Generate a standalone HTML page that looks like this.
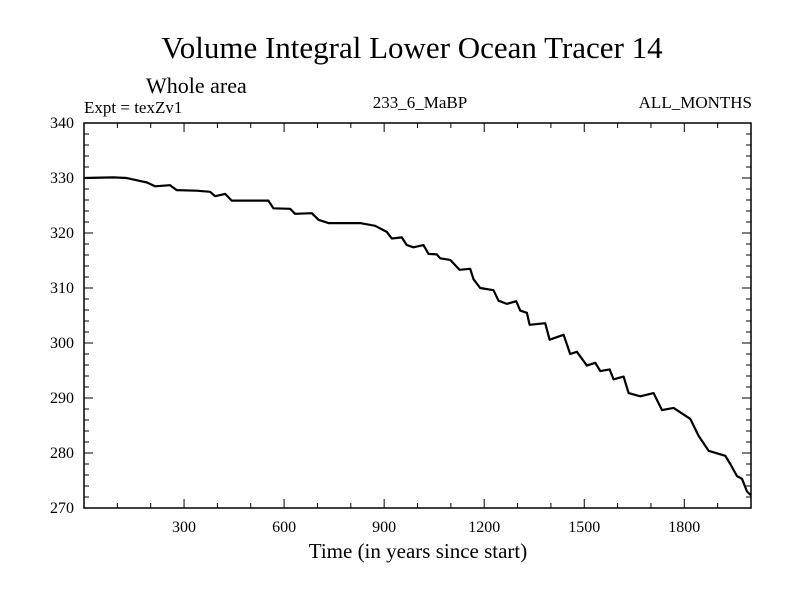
<!DOCTYPE html>
<html><head><meta charset="utf-8"><style>
body{margin:0;background:#fff;width:800px;height:600px;overflow:hidden}
svg text{font-family:"Liberation Serif",serif;fill:#000}
</style></head><body>
<svg id="chart" width="800" height="600" xmlns="http://www.w3.org/2000/svg">
<text x="412" y="58" font-size="31" text-anchor="middle">Volume Integral Lower Ocean Tracer 14</text>
<text x="146" y="93" font-size="22">Whole area</text>
<text x="84" y="113" font-size="17">Expt = texZv1</text>
<text x="420" y="108" font-size="17" text-anchor="middle">233_6_MaBP</text>
<text x="752" y="108" font-size="17" text-anchor="end">ALL_MONTHS</text>
<text x="418" y="558" font-size="21" text-anchor="middle">Time (in years since start)</text>
<g id="axes"></g>
<path id="line" fill="none" stroke="#000" stroke-width="2.2" stroke-linejoin="round"/>
</svg>
<script>
const years=[0,88,128,188,213,258,278,338,378,393,423,443,553,568,618,633,683,703,733,828,873,908,923,953,968,988,1018,1033,1058,1068,1098,1126,1158,1168,1188,1228,1243,1268,1296,1308,1328,1336,1383,1396,1438,1458,1478,1508,1533,1548,1576,1588,1618,1633,1668,1708,1733,1768,1818,1843,1873,1923,1938,1958,1973,1988,2000];
const values=[330,330.1,330,329.2,328.5,328.7,327.8,327.7,327.5,326.7,327.1,325.9,325.9,324.5,324.4,323.5,323.6,322.4,321.8,321.8,321.3,320.2,319,319.2,317.8,317.4,317.8,316.2,316.1,315.4,315.1,313.3,313.5,311.6,310,309.6,307.7,307.1,307.6,305.9,305.5,303.3,303.6,300.6,301.5,298,298.4,295.9,296.4,294.9,295.2,293.4,293.9,290.9,290.3,290.9,287.8,288.2,286.2,283.1,280.4,279.5,278,275.8,275.3,273,272.3];
const xTicks=[300,600,900,1200,1500,1800];
const yTicks=[270,280,290,300,310,320,330,340];
const X0=84,X1=751,Y0=508,Y1=123,xmin=0,xmax=2000,ymin=270,ymax=340;
const sx=v=>X0+(v-xmin)/(xmax-xmin)*(X1-X0);
const sy=v=>Y0-(v-ymin)/(ymax-ymin)*(Y0-Y1);
const NS="http://www.w3.org/2000/svg";
const g=document.getElementById('axes');
function ln(x1,y1,x2,y2,w){const l=document.createElementNS(NS,'line');l.setAttribute('x1',x1);l.setAttribute('y1',y1);l.setAttribute('x2',x2);l.setAttribute('y2',y2);l.setAttribute('stroke','#000');l.setAttribute('stroke-width',w||1);


g.appendChild(l);}
function tx(x,y,s,a){const t=document.createElementNS(NS,'text');t.setAttribute('x',x);t.setAttribute('y',y);t.setAttribute('font-size','16');t.setAttribute('text-anchor',a);t.textContent=s;


g.appendChild(t);}
const fr=document.createElementNS(NS,'rect');
fr.setAttribute('x',X0);fr.setAttribute('y',Y1);fr.setAttribute('width',X1-X0);fr.setAttribute('height',Y0-Y1);fr.setAttribute('fill','none');fr.setAttribute('stroke','#000');fr.setAttribute('stroke-width','1.5');


g.appendChild(fr);
for(let v=100;v<xmax;v+=100){const x=sx(v),L=(v%300===0)?9:5;ln(x,Y0,x,Y0-L);ln(x,Y1,x,Y1+L);}
for(let v=272;v<ymax;v+=2){const y=sy(v),L=(v%10===0)?9:5;ln(X0,y,X0+L,y);ln(X1,y,X1-L,y);}
xTicks.forEach(v=>tx(sx(v),Y0+24,String(v),'middle'));
yTicks.forEach(v=>tx(X0-10,sy(v)+5,String(v),'end'));
document.getElementById('line').setAttribute('d',years.map((y,i)=>(i?'L':'M')+sx(y).toFixed(1)+' '+sy(values[i]).toFixed(1)).join(' '));
</script>
</body></html>
